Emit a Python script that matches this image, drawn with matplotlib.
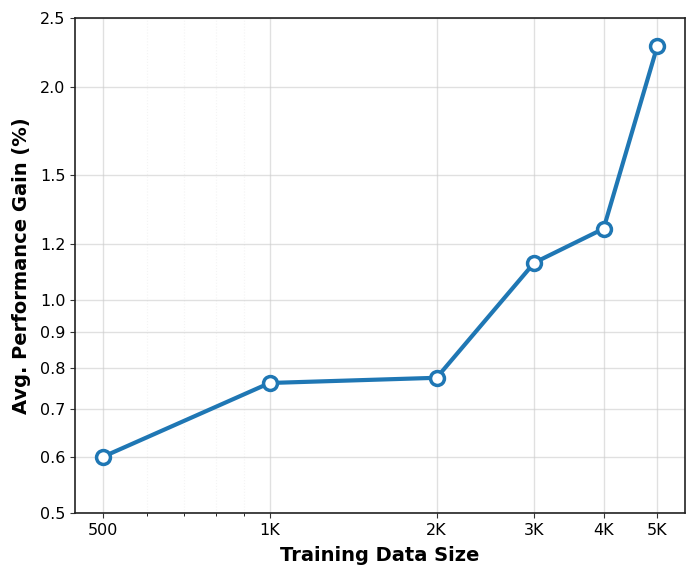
import matplotlib
matplotlib.use('Agg')
import matplotlib.pyplot as plt
from matplotlib.ticker import FixedLocator, FixedFormatter, NullFormatter

# veri
data_size = [500, 1000, 2000, 3000, 4000, 5000]
x_labels = ['500', '1K', '2K', '3K', '4K', '5K']
gain = [0.60, 0.763, 0.776, 1.128, 1.26, 2.28]
y_ticks = [0.5, 0.6, 0.7, 0.8, 0.9, 1.0, 1.2, 1.5, 2.0, 2.5]

fig = plt.figure(figsize=(6.97, 5.78), dpi=100)
ax = fig.add_axes([0.1076, 0.1125, 0.8752, 0.8564])

ax.plot(data_size, gain, color='#1f77b4', linewidth=3, marker='o',
        markersize=10, markerfacecolor='white', markeredgewidth=2.5, zorder=3)

ax.set_xscale('log')
ax.set_yscale('log')
ax.set_ylim(0.5, 2.5)

ax.xaxis.set_major_locator(FixedLocator(data_size))
ax.xaxis.set_major_formatter(FixedFormatter(x_labels))
ax.xaxis.set_minor_formatter(NullFormatter())
ax.yaxis.set_major_locator(FixedLocator(y_ticks))
ax.yaxis.set_major_formatter(FixedFormatter([f'{v:.1f}' for v in y_ticks]))
ax.yaxis.set_minor_locator(FixedLocator([]))

ax.grid(True, which='major', color='#cccccc', alpha=0.6, linewidth=1)
ax.grid(True, which='minor', axis='x', color='#e4e4e4', alpha=0.4,
        linestyle=':', linewidth=0.8)

for s in ax.spines.values():
    s.set_color('#222222')
    s.set_linewidth(1.2)

ax.tick_params(labelsize=11.5, color='#333333')
ax.set_xlabel('Training Data Size', fontsize=14, fontweight='bold', labelpad=6)
ax.set_ylabel('Avg. Performance Gain (%)', fontsize=14, fontweight='bold', labelpad=6)

plt.savefig('out.png', dpi=100)
